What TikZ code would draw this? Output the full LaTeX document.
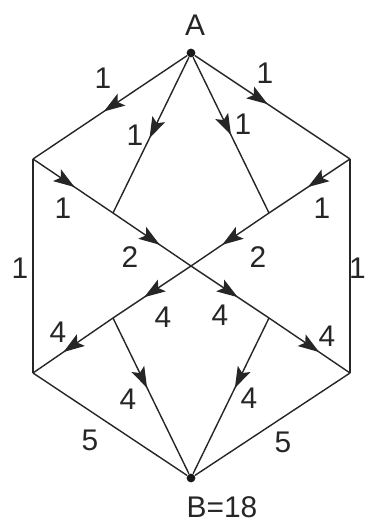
\documentclass[tikz,border=0pt]{standalone}
\usepackage{fontspec}
\setmainfont{Liberation Sans}
\usetikzlibrary{arrows.meta,decorations.markings}
\tikzset{
  edgeline/.style={line width=0.8pt, draw=black!85},
  midarrow/.style={edgeline, postaction={decorate},
    decoration={markings, mark=at position #1 with {\arrow{Stealth[length=12pt,width=8pt,inset=2.5pt]}}}},
  vertex/.style={circle, fill=black!90, inner sep=0pt, minimum size=5pt},
  lbl/.style={font=\fontsize{17}{19}\selectfont, text=black!85, inner sep=0pt}
}

\begin{document}
\begin{tikzpicture}[x=0.02cm, y=-0.02cm]
    \useasboundingbox (0,0) rectangle (367,527);

    % corners of the hexagon
    \node[vertex] (A) at (191,53) {};
    \node[vertex] (B) at (191,478) {};
    \coordinate (L1) at (33,159);
    \coordinate (L2) at (33,373);
    \coordinate (R1) at (350,159);
    \coordinate (R2) at (350,373);
    % inner points
    \coordinate (C) at (191,266);
    \coordinate (P1) at (113,213);
    \coordinate (P2) at (269,213);
    \coordinate (Q1) at (113,318);
    \coordinate (Q2) at (269,318);

    \node[lbl] (nA) at (195,25) {A};
    \node[lbl] (nB) at (222,507) {B=18};

    % plain edges
    \draw[edgeline] (L1) -- (L2);
    \draw[edgeline] (R1) -- (R2);
    \draw[edgeline] (L2) -- (B);
    \draw[edgeline] (R2) -- (B);

    % directed edges
    \draw[midarrow=0.54] (A) -- (L1);
    \draw[midarrow=0.47] (A) -- (R1);
    \draw[midarrow=0.52] (A) -- (P1);
    \draw[midarrow=0.5] (A) -- (P2);
    \draw[midarrow=0.52] (L1) -- (P1);
    \draw[midarrow=0.52] (R1) -- (P2);
    \draw[midarrow=0.6] (P1) -- (C);
    \draw[midarrow=0.6] (P2) -- (C);
    \draw[midarrow=0.6] (C) -- (Q2);
    \draw[midarrow=0.6] (C) -- (Q1);
    \draw[midarrow=0.62] (Q2) -- (R2);
    \draw[midarrow=0.62] (Q1) -- (L2);
    \draw[midarrow=0.45] (Q1) -- (B);
    \draw[midarrow=0.45] (Q2) -- (B);

    % path counts
    \node[lbl] (c1) at (103,78) {1};
    \node[lbl] (c2) at (135,135) {1};
    \node[lbl] (c3) at (243,124) {1};
    \node[lbl] (c4) at (265,73) {1};
    \node[lbl] (c5) at (63,208) {1};
    \node[lbl] (c6) at (322,208) {1};
    \node[lbl] (c7) at (20,268) {1};
    \node[lbl, anchor=east] (c8) at (366,268) {1};
    \node[lbl] (c9) at (130,257) {2};
    \node[lbl] (c10) at (258,257) {2};
    \node[lbl] (c11) at (163,317) {4};
    \node[lbl] (c12) at (220,315) {4};
    \node[lbl] (c13) at (58,332) {4};
    \node[lbl] (c14) at (327,336) {4};
    \node[lbl] (c15) at (128,399) {4};
    \node[lbl] (c16) at (249,398) {4};
    \node[lbl] (c17) at (90,440) {5};
    \node[lbl] (c18) at (283,442) {5};
\end{tikzpicture}
\end{document}
